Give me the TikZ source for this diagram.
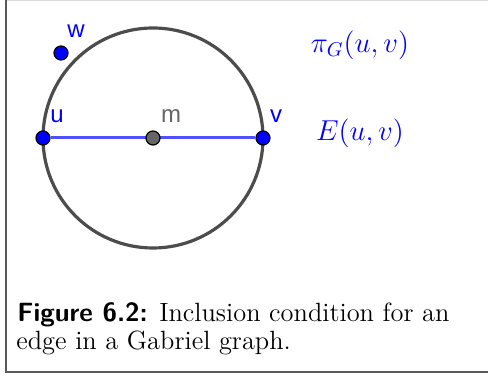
\documentclass[tikz,border=0pt]{standalone}
\usepackage{fontspec}
\newfontfamily\geo{Liberation Sans}
\definecolor{circ}{gray}{0.3}
\definecolor{seg}{RGB}{80,80,255}
\definecolor{ptblue}{RGB}{0,0,255}
\tikzset{
  pt/.style={circle, draw=black, fill=ptblue, line width=0.6pt, minimum size=7pt, inner sep=0pt},
  mid/.style={pt, fill=black!60},
  lbl/.style={font=\geo\fontsize{12}{14}\selectfont, text=ptblue, inner sep=0pt},
  mlbl/.style={font=\fontsize{14.4}{17}\selectfont, text=ptblue, inner sep=0pt},
  captext/.style={font=\fontsize{13.2}{15}\selectfont, anchor=base west, inner sep=0pt},
}
\begin{document}
\begin{tikzpicture}[x=0.5pt,y=-0.5pt]
\useasboundingbox (0,0) rectangle (488,378);
% frame
\draw[black!15, line width=0.5pt] (5,0.5) -- (488,0.5);
\draw[black!65, line width=1pt] (5.5,0) -- (5.5,372.5) -- (488,372.5);
% geometry
\coordinate (c) at (153,138);
\draw[circ, line width=1.6pt] (c) circle[radius=110];
\node[pt] (u) at (43,138) {};
\node[pt] (v) at (263,138) {};
\node[pt] (w) at (61,53) {};
\draw[seg, line width=1.5pt] (u) -- (v);
\node[mid] (m) at (c) {};
% labels
\node[lbl] (lw) at (76,31) {w};
\node[lbl] (lu) at (57,116) {u};
\node[lbl, text=black!60] (lm) at (171,116) {m};
\node[lbl] (lv) at (276,116) {v};
\node[mlbl] (pi) at (360,45) {$\pi_G(u,v)$};
\node[mlbl] (e) at (360,133) {$E(u,v)$};
% caption
\node[captext] (cap1) at (17,322) {{\sffamily\bfseries Figure 6.2:} Inclusion condition for an};
\node[captext] (cap2) at (16,350) {edge in a Gabriel graph.};
\end{tikzpicture}
\end{document}
